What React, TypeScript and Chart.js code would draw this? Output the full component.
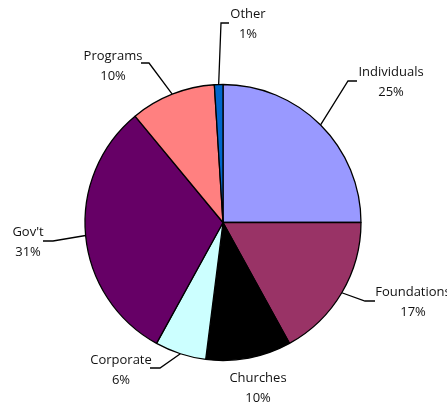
import React, { useEffect, useRef } from "react";
import { Chart, registerables } from "chart.js";

Chart.register(...registerables);

const categories = ["Individuals", "Foundations", "Churches", "Corporate", "Gov't", "Programs", "Other"];
const values = [25, 17, 10, 6, 31, 10, 1];
const percentLabels = ["25%", "17%", "10%", "6%", "31%", "10%", "1%"];
const colors = ["#9999FF", "#993366", "#000000", "#CCFFFF", "#660066", "#FF8080", "#0066CC"];

// label layout: text center for name line, leader elbow & end (null = no leader)
const labelLayout = [
  { tx: 391, ty: 72, elbow: [348, 81], end: [357, 81] },
  { tx: 413, ty: 292, elbow: [365, 301], end: [375, 301] },
  { tx: 258, ty: 378, elbow: null, end: null },
  { tx: 121, ty: 360, elbow: [160, 368], end: [150, 368] },
  { tx: 28, ty: 232, elbow: [53, 241], end: [43, 241] },
  { tx: 113, ty: 56, elbow: [149, 63], end: [141, 63] },
  { tx: 248, ty: 14, elbow: [221, 23], end: [229, 23] },
];

const labelPlugin = {
  id: "pieLabels",
  afterDatasetsDraw(chart: any) {
    const ctx = chart.ctx;
    const meta = chart.getDatasetMeta(0);
    ctx.save();
    meta.data.forEach((arc: any, i: number) => {
      const { x, y, startAngle, endAngle, outerRadius } = arc.getProps(
        ["x", "y", "startAngle", "endAngle", "outerRadius"],
        true
      );
      const mid = (startAngle + endAngle) / 2;
      const px = x + Math.cos(mid) * outerRadius;
      const py = y + Math.sin(mid) * outerRadius;
      const lay = labelLayout[i];
      if (lay.elbow && lay.end) {
        ctx.beginPath();
        ctx.strokeStyle = "#000";
        ctx.lineWidth = 1.3;
        ctx.moveTo(px, py);
        ctx.lineTo(lay.elbow[0], lay.elbow[1]);
        ctx.lineTo(lay.end[0], lay.end[1]);
        ctx.stroke();
      }
      ctx.fillStyle = "#111";
      ctx.font = "13px 'Open Sans'";
      ctx.textAlign = "center";
      ctx.textBaseline = "middle";
      ctx.fillText(categories[i], lay.tx, lay.ty);
      ctx.fillText(percentLabels[i], lay.tx, lay.ty + 20);
    });
    ctx.restore();
  },
};

export default function App() {
  const ref = useRef<HTMLCanvasElement>(null);
  useEffect(() => {
    if (!ref.current) return;
    const chart = new Chart(ref.current, {
      type: "pie",
      data: {
        labels: categories,
        datasets: [
          {
            data: values,
            backgroundColor: colors,
            borderColor: "#000",
            borderWidth: 1.3,
          },
        ],
      },
      options: {
        responsive: false,
        animation: false,
        radius: 138,
        layout: { padding: { left: 80, right: 81, top: 81, bottom: 42 } },
        plugins: {
          legend: { display: false },
          tooltip: { enabled: false },
        },
      } as any,
      plugins: [labelPlugin],
    });
    return () => chart.destroy();
  }, []);
  return (
    <div style={{ position: "absolute", left: 0, top: 0, width: 447, height: 406, background: "#fff" }}>
      <canvas ref={ref} width={447} height={406} style={{ width: 447, height: 406 }} />
    </div>
  );
}
